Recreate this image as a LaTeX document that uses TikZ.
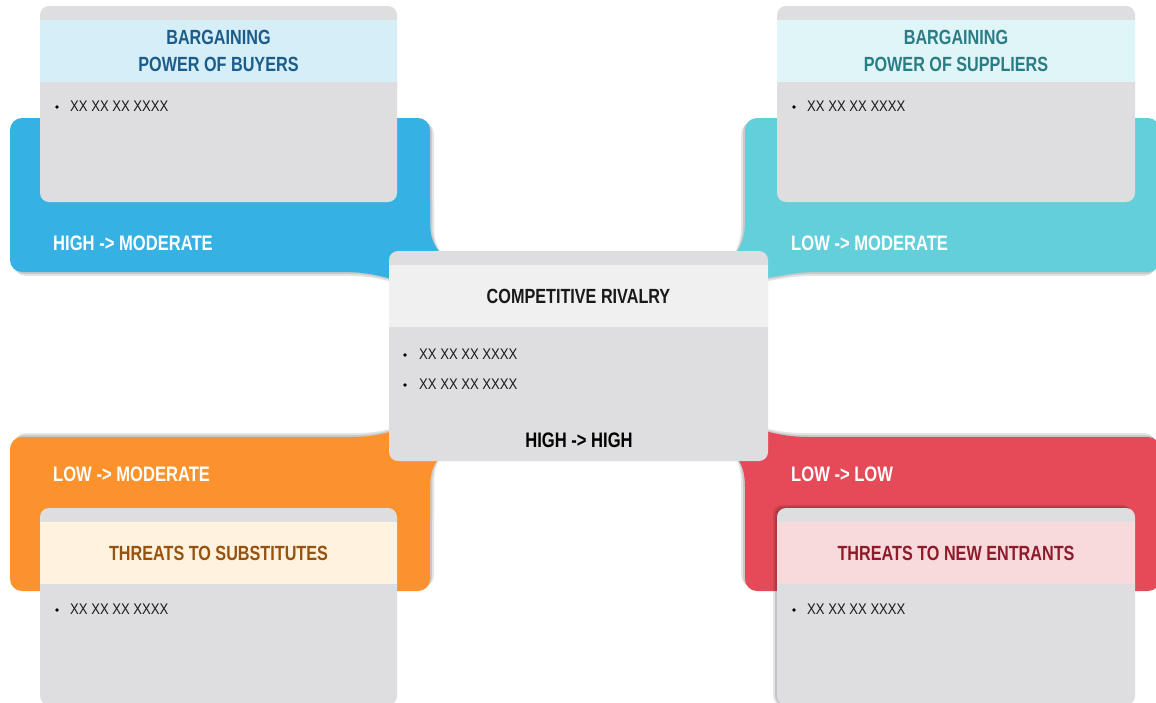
\documentclass[tikz,border=0pt]{standalone}
\usepackage{fontspec}
\setmainfont{Liberation Sans}
\newfontfamily\condf[FakeStretch=0.85]{Liberation Sans}
\newfontfamily\condt[FakeStretch=0.79]{Liberation Sans}
\definecolor{cblue}{HTML}{35B2E3}
\definecolor{ccyan}{HTML}{62CFDA}
\definecolor{corange}{HTML}{FC922D}
\definecolor{cred}{HTML}{E44A58}
\definecolor{cardgray}{HTML}{DEDEE0}
\definecolor{hcenter}{HTML}{F0F0F0}
\definecolor{hblue}{HTML}{D5EEF8}
\definecolor{hcyan}{HTML}{DFF5F7}
\definecolor{horange}{HTML}{FFF2DE}
\definecolor{hred}{HTML}{F8D9DC}
\definecolor{tblue}{HTML}{1C5C8A}
\definecolor{tcyan}{HTML}{2B7D85}
\definecolor{torange}{HTML}{98520F}
\definecolor{tred}{HTML}{8E1B2A}
\newcommand\colshape[6]{%
  \begin{scope}[transparency group,opacity=0.10]
    \fill[black,shift={(#5,#6)},rounded corners=12pt] #2 rectangle #3;
    \fill[black,shift={(#5,#6)}] #4;
  \end{scope}
  \begin{scope}[transparency group,opacity=0.12]
    \fill[black,shift={(#5/2,#6/2)},rounded corners=12pt] #2 rectangle #3;
    \fill[black,shift={(#5/2,#6/2)}] #4;
  \end{scope}
  \fill[#1,rounded corners=12pt] #2 rectangle #3;
  \fill[#1] #4;
}
\newcommand\mycard[5]{%
  \fill[cardgray,rounded corners=9pt] (#1,#2) rectangle (#3,#4);
  \fill[#5] (#1,#2+14) rectangle (#3,#2+76);
}
\begin{document}
\begin{tikzpicture}[x=1pt,y=-1pt,
  title/.style={font=\condt\bfseries\fontsize{20.5}{27}\selectfont,align=center,inner sep=0pt},
  level/.style={font=\condt\bfseries\fontsize{21}{24}\selectfont,text=white,anchor=west,inner sep=0pt},
  item/.style={font=\condf\fontsize{15.4}{18}\selectfont,anchor=west,inner sep=0pt,text=black!90},
  dot/.style={inner sep=0pt,fill=black,circle,minimum size=3.6pt}]
\useasboundingbox (0,0) rectangle (1156,702);
\fill[white] (0,0) rectangle (1156,702);

% coloured shapes
\colshape{cblue}{(10,118)}{(430,272)}%
  {(350,200) -- (430,200) -- (430,222) .. controls (430,238) and (434,246) .. (444,258) -- (420,300) -- (392,279) .. controls (380,276) and (370,273) .. (350,272) -- cycle}{4}{4}
\colshape{ccyan}{(745,118)}{(1160,272)}%
  {(810,200) -- (745,200) -- (745,222) .. controls (745,238) and (741,246) .. (733,258) -- (760,300) -- (766,278) .. controls (780,276) and (792,273) .. (810,272) -- cycle}{-4}{4}
\colshape{corange}{(10,437)}{(430,591)}%
  {(350,437) .. controls (368,437) and (380,435) .. (393,431) -- (420,440) -- (441,456) .. controls (434,463) and (430,472) .. (430,488) -- (430,520) -- (350,520) -- cycle}{4}{-4}
\colshape{cred}{(745,437)}{(1160,591)}%
  {(810,437) .. controls (792,437) and (780,435) .. (765,431) -- (750,445) -- (736,457) .. controls (742,464) and (745,472) .. (745,488) -- (745,520) -- (810,520) -- cycle}{-4}{-4}

\node[level] (tlLevel) at (53,243) {HIGH -> MODERATE};
\node[level] (trLevel) at (791,243) {LOW -> MODERATE};
\node[level] (blLevel) at (53,474) {LOW -> MODERATE};
\node[level] (brLevel) at (791,474) {LOW -> LOW};

% cards
\mycard{40}{6}{397}{202}{hblue}
\mycard{777}{6}{1135}{202}{hcyan}
\mycard{40}{508}{397}{705}{horange}
\begin{scope}[transparency group,opacity=0.10]
  \fill[black,rounded corners=9pt] (773,505) rectangle (1131,705);
\end{scope}
\begin{scope}[transparency group,opacity=0.14]
  \fill[black,rounded corners=9pt] (775,506.5) rectangle (1133,705);
\end{scope}
\mycard{777}{508}{1135}{705}{hred}
\mycard{389}{251}{768}{461}{hcenter}

\node[title,text=tblue] (tlTitle) at (218.5,51) {BARGAINING\\POWER OF BUYERS};
\node[dot] (tlDot) at (57,107) {};
\node[item] (tlItem) at (70,106) {XX XX XX XXXX};

\node[title,text=tcyan] (trTitle) at (956,51) {BARGAINING\\POWER OF SUPPLIERS};
\node[dot] (trDot) at (794,107) {};
\node[item] (trItem) at (807,106) {XX XX XX XXXX};

\node[title,text=torange] (blTitle) at (218.5,553) {THREATS TO SUBSTITUTES};
\node[dot] (blDot) at (57,610) {};
\node[item] (blItem) at (70,609) {XX XX XX XXXX};

\node[title,text=tred] (brTitle) at (956,553) {THREATS TO NEW ENTRANTS};
\node[dot] (brDot) at (794,610) {};
\node[item] (brItem) at (807,609) {XX XX XX XXXX};

\node[title,text=black!90] (cTitle) at (578.5,296) {COMPETITIVE RIVALRY};
\node[dot] (cDot1) at (405,355) {};
\node[item] (cItem1) at (419,354) {XX XX XX XXXX};
\node[dot] (cDot2) at (405,385) {};
\node[item] (cItem2) at (419,384) {XX XX XX XXXX};
\node[level,anchor=center,text=black] (cLevel) at (579,440) {HIGH -> HIGH};
\end{tikzpicture}
\end{document}
